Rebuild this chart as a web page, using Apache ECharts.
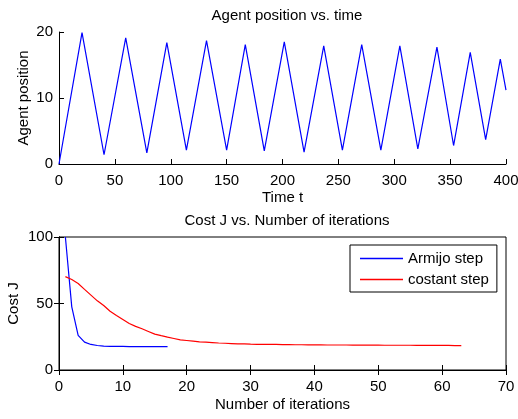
<!DOCTYPE html>
<html>
<head>
<meta charset="utf-8">
<script src="https://cdn.jsdelivr.net/npm/echarts@6/dist/echarts.min.js"></script>
<style>
  html, body { margin: 0; padding: 0; background: #fff; }
  #main { width: 518px; height: 419px; }
</style>
</head>
<body>
<div id="main"></div>
<script>
// agent position: turning points of the zig-zag [t, position]
var positionPoints = [
    [0, 0], [20.6, 19.9], [40.3, 1.4], [59.7, 19.1], [78.6, 1.7], [96.5, 18.4],
    [114, 2.1], [132, 18.7], [150, 2.1], [166.7, 18.1], [183.7, 2.0], [201.6, 18.5],
    [219.3, 1.8], [236.9, 17.9], [253.6, 2.1], [270.9, 18.1], [288, 2.1], [305, 17.9],
    [321.1, 2.3], [338.2, 17.7], [353.1, 2.8], [368, 16.9], [381.8, 3.7], [394.9, 15.9],
    [400, 11.2]
];

// cost J per iteration
var armijoCost = [100, 47.5, 26, 21, 19.2, 18.4, 17.9, 17.8, 17.7, 17.7, 17.6, 17.6,
    17.6, 17.6, 17.6, 17.6, 17.6];
var constantCost = [70.2, 68, 65, 60.6, 56.3, 52, 48.5, 44.2, 41, 38,
    35, 32.8, 31, 29, 27, 25.8, 24.7, 23.7, 22.7, 22.2,
    21.7, 21.2, 20.9, 20.6, 20.3, 20.1, 19.9, 19.7, 19.6, 19.4,
    19.3, 19.3, 19.2, 19.2, 19.1, 19.1, 19.0, 19.0, 18.9, 18.9,
    18.9, 18.8, 18.8, 18.8, 18.8, 18.7, 18.7, 18.7, 18.7, 18.7,
    18.6, 18.6, 18.6, 18.6, 18.6, 18.5, 18.5, 18.5, 18.5, 18.5,
    18.5, 18.4, 18.4];

var topXTicks = [0, 400, 50];
var topYTicks = [0, 20, 10];
var botXTicks = [0, 70, 10];
var botYTicks = [0, 100, 50];

function withIndex(arr) {
    return arr.map(function (v, i) { return [i + 1, v]; });
}

var font = 'Liberation Sans';
var axisLine = { show: true, lineStyle: { color: '#000', width: 1 } };
var tick = { show: true, inside: true, length: 5, lineStyle: { color: '#000' } };
var label = { color: '#000', fontSize: 15, fontFamily: font };
var nameStyle = { color: '#000', fontSize: 15, fontFamily: font };

var myChart = echarts.init(document.getElementById('main'));
myChart.setOption({
    animation: false,
    title: [{
        text: 'Agent position vs. time',
        left: 282, top: 3, textAlign: 'center',
        textStyle: { color: '#000', fontSize: 15, fontWeight: 'normal', fontFamily: font }
    }, {
        text: 'Cost J vs. Number of iterations',
        left: 282, top: 208, textAlign: 'center',
        textStyle: { color: '#000', fontSize: 15, fontWeight: 'normal', fontFamily: font }
    }],
    legend: {
        data: [
            { name: 'Armijo step', icon: 'rect' },
            { name: 'costant step', icon: 'rect' }
        ],
        orient: 'vertical',
        left: 350, top: 245,
        padding: [6, 8, 5, 10],
        itemGap: 6,
        itemWidth: 43, itemHeight: 1.5,
        borderColor: '#000', borderWidth: 1,
        backgroundColor: '#fff',
        textStyle: { color: '#000', fontSize: 15, fontFamily: font, lineHeight: 15 }
    },
    grid: [
        { left: 59, right: 12, top: 32, bottom: 255, outerBoundsMode: 'none' },
        { left: 59, right: 12, top: 237, bottom: 49, outerBoundsMode: 'none',
          show: true, borderColor: '#000', borderWidth: 1 }
    ],
    xAxis: [{
        gridIndex: 0, type: 'value',
        min: topXTicks[0], max: topXTicks[1], interval: topXTicks[2],
        name: 'Time t', nameLocation: 'middle', nameGap: 26, nameMoveOverlap: false,
        nameTextStyle: nameStyle,
        axisLine: axisLine, axisTick: tick, axisLabel: Object.assign({ margin: 9 }, label),
        splitLine: { show: false }
    }, {
        gridIndex: 1, type: 'value',
        min: botXTicks[0], max: botXTicks[1], interval: botXTicks[2],
        name: 'Number of iterations', nameLocation: 'middle', nameGap: 27, nameMoveOverlap: false,
        nameTextStyle: nameStyle,
        axisLine: axisLine, axisTick: tick, axisLabel: Object.assign({ margin: 9 }, label),
        splitLine: { show: false }
    }, {
        gridIndex: 1, type: 'value', position: 'top',
        min: botXTicks[0], max: botXTicks[1], interval: botXTicks[2],
        axisLine: axisLine, axisTick: tick, axisLabel: { show: false },
        splitLine: { show: false }
    }],
    yAxis: [{
        gridIndex: 0, type: 'value',
        min: topYTicks[0], max: topYTicks[1], interval: topYTicks[2],
        name: 'Agent position', nameLocation: 'middle', nameGap: 28, nameMoveOverlap: false,
        nameTextStyle: nameStyle,
        axisLine: axisLine, axisTick: tick, axisLabel: Object.assign({ margin: 6 }, label),
        splitLine: { show: false }
    }, {
        gridIndex: 1, type: 'value',
        min: botYTicks[0], max: botYTicks[1], interval: botYTicks[2],
        name: 'Cost J', nameLocation: 'middle', nameGap: 38, nameMoveOverlap: false,
        nameTextStyle: nameStyle,
        axisLine: axisLine, axisTick: tick, axisLabel: Object.assign({ margin: 6 }, label),
        splitLine: { show: false }
    }, {
        gridIndex: 1, type: 'value', position: 'right',
        min: botYTicks[0], max: botYTicks[1], interval: botYTicks[2],
        axisLine: axisLine, axisTick: tick, axisLabel: { show: false },
        splitLine: { show: false }
    }],
    series: [{
        name: 'position', type: 'line',
        xAxisIndex: 0, yAxisIndex: 0,
        data: positionPoints, symbol: 'none',
        lineStyle: { color: '#0000ff', width: 1.2 }
    }, {
        name: 'Armijo step', type: 'line',
        xAxisIndex: 1, yAxisIndex: 1,
        data: withIndex(armijoCost), symbol: 'none', clip: true,
        itemStyle: { color: '#0000ff' },
        lineStyle: { color: '#0000ff', width: 1.2 }
    }, {
        name: 'costant step', type: 'line',
        xAxisIndex: 1, yAxisIndex: 1,
        data: withIndex(constantCost), symbol: 'none', clip: true,
        itemStyle: { color: '#ff0000' },
        lineStyle: { color: '#ff0000', width: 1.2 }
    }]
});
</script>
</body>
</html>
